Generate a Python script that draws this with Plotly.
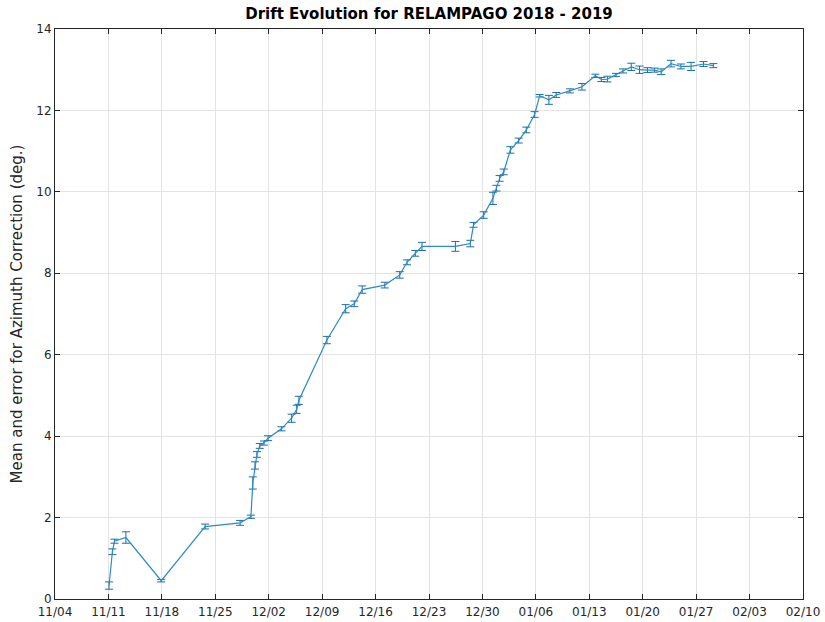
import plotly.graph_objects as go
import pandas as pd

# Observation times (UTC) of each drift estimate
times = [
    "2018-11-11 02:00", "2018-11-11 12:30", "2018-11-11 19:00", "2018-11-13 07:00",
    "2018-11-17 22:00", "2018-11-23 16:00", "2018-11-28 06:00", "2018-11-29 16:00",
    "2018-11-29 22:00", "2018-11-30 05:00", "2018-11-30 11:00", "2018-11-30 20:00",
    "2018-12-01 09:00", "2018-12-01 22:00", "2018-12-03 16:00", "2018-12-05 00:00",
    "2018-12-05 16:00", "2018-12-05 23:00", "2018-12-09 15:00", "2018-12-12 02:00",
    "2018-12-13 05:00", "2018-12-14 06:00", "2018-12-17 05:00", "2018-12-19 04:00",
    "2018-12-20 03:00", "2018-12-21 05:00", "2018-12-22 02:00", "2018-12-26 11:00",
    "2018-12-28 10:00", "2018-12-28 20:00", "2018-12-30 04:00", "2018-12-31 09:00",
    "2018-12-31 20:00", "2019-01-01 06:00", "2019-01-01 19:00", "2019-01-02 16:00",
    "2019-01-03 18:00", "2019-01-04 18:00", "2019-01-05 20:00", "2019-01-06 12:00",
    "2019-01-07 17:00", "2019-01-08 16:00", "2019-01-10 11:00", "2019-01-12 01:00",
    "2019-01-13 19:00", "2019-01-14 14:00", "2019-01-15 09:00", "2019-01-16 12:00",
    "2019-01-17 10:00", "2019-01-18 12:00", "2019-01-19 14:00", "2019-01-20 15:00",
    "2019-01-21 13:00", "2019-01-22 10:00", "2019-01-23 17:00", "2019-01-25 00:00",
    "2019-01-26 08:00", "2019-01-27 23:00", "2019-01-29 06:00",
]

# Mean azimuth correction (deg.)
mean_corr = [
    0.33, 1.16, 1.42, 1.51,
    0.45, 1.78, 1.87, 2.02,
    2.85, 3.28, 3.55, 3.76,
    3.83, 3.95, 4.18, 4.44,
    4.66, 4.88, 6.36, 7.13,
    7.25, 7.60, 7.71, 7.96,
    8.27, 8.49, 8.66, 8.66,
    8.73, 9.19, 9.43, 9.84,
    10.09, 10.33, 10.49, 11.03,
    11.26, 11.52, 11.90, 12.36,
    12.26, 12.38, 12.48, 12.58,
    12.85, 12.76, 12.77, 12.87,
    12.97, 13.07, 13.00, 12.99,
    12.99, 12.95, 13.15, 13.08,
    13.08, 13.14, 13.10,
]

# Error (deg.)
err_corr = [
    0.09, 0.07, 0.05, 0.14,
    0.03, 0.06, 0.06, 0.04,
    0.15, 0.09, 0.07, 0.06,
    0.05, 0.06, 0.05, 0.10,
    0.10, 0.10, 0.09, 0.10,
    0.07, 0.09, 0.07, 0.08,
    0.06, 0.07, 0.10, 0.12,
    0.08, 0.06, 0.08, 0.15,
    0.07, 0.07, 0.07, 0.08,
    0.06, 0.07, 0.07, 0.03,
    0.11, 0.06, 0.05, 0.08,
    0.04, 0.05, 0.07, 0.04,
    0.05, 0.09, 0.09, 0.06,
    0.05, 0.07, 0.08, 0.06,
    0.10, 0.06, 0.05,
]

x_tick_dates = pd.date_range("2018-11-04", "2019-02-10", freq="7D")
x_tick_labels = [d.strftime("%m/%d") for d in x_tick_dates]
y_ticks = [0, 2, 4, 6, 8, 10, 12, 14]

title_text = "Drift Evolution for RELAMPAGO 2018 - 2019"
y_label = "Mean and error for Azimuth Correction (deg.)"

font_family = "DejaVu Sans, Liberation Sans, sans-serif"
axis_color = "#262626"

fig = go.Figure()
fig.add_trace(go.Scatter(
    x=pd.to_datetime(times),
    y=mean_corr,
    mode="lines",
    line=dict(color="#2c8ac4", width=1.2),
    error_y=dict(type="data", array=err_corr, visible=True,
                 color="#1b6eaa", thickness=1, width=4),
    showlegend=False,
))

axis_common = dict(
    showline=True, linecolor=axis_color, linewidth=1, mirror="allticks",
    ticks="inside", ticklen=5, tickcolor=axis_color, tickwidth=1,
    showgrid=True, gridcolor="#e3e3e3", gridwidth=1, zeroline=False,
    tickfont=dict(family=font_family, size=12, color=axis_color),
    automargin=False,
)

fig.update_xaxes(
    range=[x_tick_dates[0], x_tick_dates[-1]],
    tickvals=x_tick_dates, ticktext=x_tick_labels,
    ticklabelstandoff=2,
    **axis_common,
)
fig.update_yaxes(
    range=[0, 14], tickvals=y_ticks,
    title=dict(text=y_label, font=dict(family=font_family, size=15, color=axis_color), standoff=10),
    **axis_common,
)

fig.update_layout(
    width=825, height=622,
    margin=dict(l=55, r=22, t=29, b=23),
    paper_bgcolor="white", plot_bgcolor="white",
    title=dict(text="<b>" + title_text + "</b>", x=0.5, xref="paper", xanchor="center",
               y=1, yref="container", yanchor="top", pad=dict(t=8),
               font=dict(family=font_family, size=15, color="black")),
)

fig.write_html("out.html")
